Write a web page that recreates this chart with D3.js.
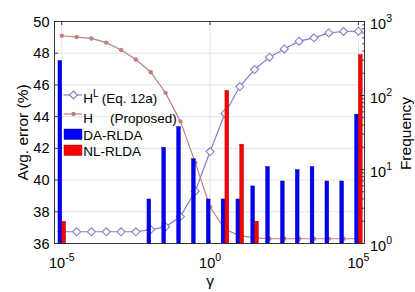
<!DOCTYPE html>
<html>
<head>
<meta charset="utf-8">
<script src="https://cdn.jsdelivr.net/npm/d3@7"></script>
<style>
  body { margin: 0; background: #fff; }
  svg text { font-family: "Liberation Sans", Arial, Helvetica, sans-serif; fill: #000; }
</style>
</head>
<body>
<div id="chart"></div>
<script>
// gamma values as powers of ten (half-decade steps)
const gammaExp = [-5, -4.5, -4, -3.5, -3, -2.5, -2, -1.5, -1, -0.5, 0, 0.5, 1, 1.5, 2, 2.5, 3, 3.5, 4, 4.5, 5];

// average error (%), left axis
const errHL = [36.74, 36.74, 36.74, 36.74, 36.74, 36.74, 36.88, 37.05, 37.7, 39.3, 41.8, 44.2, 45.9, 46.97, 47.75, 48.27, 48.76, 48.97, 49.28, 49.37, 49.39];
const errH  = [49.1, 49.02, 48.93, 48.67, 48.2, 47.6, 46.8, 45.5, 43.7, 41.1, 38.3, 36.9, 36.5, 36.35, 36.3, 36.3, 36.3, 36.3, 36.3, 36.3, 36.3];

// frequency of chosen gamma, right axis (0 = no bar)
const freqDA = [297, 0, 0, 0, 0, 0, 4, 20, 38, 14, 4, 4, 4, 6, 11, 7, 10, 11, 7, 7, 56];
const freqNL = [2, 0, 0, 0, 0, 0, 0, 0, 0, 0, 0, 117, 22, 2, 0, 0, 0, 0, 0, 0, 357];

const xTickExp = [-5, 0, 5];
const yLeftTicks = [36, 38, 40, 42, 44, 46, 48, 50];
const yRightTickExp = [0, 1, 2, 3];

const width = 415, height = 292;
const pLeft = 54.5, pRight = 364.5, pTop = 21.5, pBottom = 243.5;

const colHL = "#8282c8", colH = "#bf8080";
const colDA = "#0000ff", colNL = "#ff0000";
const gridCol = "#e4e4e4", axisCol = "#262626";

const svg = d3.select("#chart").append("svg")
  .attr("width", width)
  .attr("height", height);

const x = d3.scaleLog().domain([Math.pow(10, -5.245), Math.pow(10, 5.205)]).range([pLeft, pRight]);
const yL = d3.scaleLinear().domain([36, 50]).range([pBottom, pTop]);
const yR = d3.scaleLog().domain([1, 1000]).range([pBottom, pTop]);

const pts = gammaExp.map((e, i) => ({g: Math.pow(10, e), hl: errHL[i], h: errH[i], da: freqDA[i], nl: freqNL[i]}));

// grid
svg.append("g").selectAll("line.hg")
  .data(yLeftTicks.slice(1, -1))
  .enter().append("line")
  .attr("x1", pLeft).attr("x2", pRight)
  .attr("y1", d => yL(d)).attr("y2", d => yL(d))
  .attr("stroke", gridCol).attr("stroke-width", 1);

svg.append("g").selectAll("line.vg")
  .data(xTickExp)
  .enter().append("line")
  .attr("x1", d => x(Math.pow(10, d))).attr("x2", d => x(Math.pow(10, d)))
  .attr("y1", pTop).attr("y2", pBottom)
  .attr("stroke", gridCol).attr("stroke-width", 1);

// lines
const lineHL = d3.line().x(d => x(d.g)).y(d => yL(d.hl));
const lineH = d3.line().x(d => x(d.g)).y(d => yL(d.h));

svg.append("path").datum(pts)
  .attr("d", lineHL).attr("fill", "none")
  .attr("stroke", colHL).attr("stroke-width", 1.2);

const diamond = "M0,-4L4,0L0,4L-4,0Z";
svg.append("g").selectAll("path")
  .data(pts).enter().append("path")
  .attr("d", diamond)
  .attr("transform", d => `translate(${x(d.g)},${yL(d.hl)})`)
  .attr("fill", "#fff").attr("stroke", colHL).attr("stroke-width", 1.1);

svg.append("path").datum(pts)
  .attr("d", lineH).attr("fill", "none")
  .attr("stroke", colH).attr("stroke-width", 1.2);

svg.append("g").selectAll("circle")
  .data(pts).enter().append("circle")
  .attr("cx", d => x(d.g)).attr("cy", d => yL(d.h))
  .attr("r", 2.2).attr("fill", colH);

// bars (drawn on top of lines)
const bw = 3.8;
svg.append("g").selectAll("rect")
  .data(pts.filter(d => d.da > 0)).enter().append("rect")
  .attr("x", d => x(d.g) - bw).attr("width", bw)
  .attr("y", d => yR(d.da)).attr("height", d => pBottom - yR(d.da))
  .attr("fill", colDA).attr("stroke", "#00007a").attr("stroke-width", 0.4);

svg.append("g").selectAll("rect")
  .data(pts.filter(d => d.nl > 0)).enter().append("rect")
  .attr("x", d => x(d.g)).attr("width", bw)
  .attr("y", d => yR(d.nl)).attr("height", d => pBottom - yR(d.nl))
  .attr("fill", colNL).attr("stroke", "#7a0000").attr("stroke-width", 0.4);

// box
svg.append("rect")
  .attr("x", pLeft).attr("y", pTop)
  .attr("width", pRight - pLeft).attr("height", pBottom - pTop)
  .attr("fill", "none").attr("stroke", axisCol).attr("stroke-width", 0.9);

// x ticks (inward, top and bottom)
xTickExp.forEach(e => {
  const px = x(Math.pow(10, e));
  svg.append("line").attr("x1", px).attr("x2", px).attr("y1", pBottom).attr("y2", pBottom - 3.5)
    .attr("stroke", axisCol).attr("stroke-width", 0.9);
  svg.append("line").attr("x1", px).attr("x2", px).attr("y1", pTop).attr("y2", pTop + 3.5)
    .attr("stroke", axisCol).attr("stroke-width", 0.9);
});

const xt = svg.append("g").selectAll("text")
  .data(xTickExp).enter().append("text")
  .attr("x", d => x(Math.pow(10, d)))
  .attr("y", 268)
  .attr("text-anchor", "middle")
  .style("font-size", "14.5px");
xt.append("tspan").text("10");
xt.append("tspan").attr("dy", -7).style("font-size", "10.5px").text(d => d);

// left y ticks
svg.append("g").selectAll("line")
  .data(yLeftTicks).enter().append("line")
  .attr("x1", pLeft).attr("x2", pLeft + 3.5)
  .attr("y1", d => yL(d)).attr("y2", d => yL(d))
  .attr("stroke", axisCol).attr("stroke-width", 0.9);

svg.append("g").selectAll("text")
  .data(yLeftTicks).enter().append("text")
  .attr("x", 49.5).attr("y", d => yL(d) + 5)
  .attr("text-anchor", "end")
  .style("font-size", "14.5px")
  .text(d => d);

// right y ticks (log, with minor)
const minor = [];
yRightTickExp.slice(0, -1).forEach(e => {
  [2, 3, 4, 5, 6, 7, 8, 9].forEach(m => minor.push(m * Math.pow(10, e)));
});
svg.append("g").selectAll("line")
  .data(minor).enter().append("line")
  .attr("x1", pRight).attr("x2", pRight - 2.5)
  .attr("y1", d => yR(d)).attr("y2", d => yR(d))
  .attr("stroke", axisCol).attr("stroke-width", 0.8);
svg.append("g").selectAll("line")
  .data(yRightTickExp).enter().append("line")
  .attr("x1", pRight).attr("x2", pRight - 4.5)
  .attr("y1", d => yR(Math.pow(10, d))).attr("y2", d => yR(Math.pow(10, d)))
  .attr("stroke", axisCol).attr("stroke-width", 0.9);

const yt = svg.append("g").selectAll("text")
  .data(yRightTickExp).enter().append("text")
  .attr("x", 370).attr("y", d => yR(Math.pow(10, d)) + 7.5)
  .style("font-size", "14.5px");
yt.append("tspan").text("10");
yt.append("tspan").attr("dy", -7).style("font-size", "10.5px").text(d => d);

// axis titles
svg.append("text")
  .attr("transform", "translate(28,132.5) rotate(-90)")
  .attr("text-anchor", "middle")
  .style("font-size", "15.5px")
  .text("Avg. error (%)");

svg.append("text")
  .attr("transform", "translate(411,133.5) rotate(-90)")
  .attr("text-anchor", "middle")
  .style("font-size", "15.5px")
  .text("Frequency");

svg.append("text")
  .attr("x", 210).attr("y", 286)
  .attr("text-anchor", "middle")
  .style("font-size", "15.5px")
  .text("γ");

// legend
const lg = svg.append("g");
const sx0 = 63.5, sx1 = 82, smid = 73.5, tx = 83.3;

// H^L
lg.append("line").attr("x1", sx0).attr("x2", sx1).attr("y1", 95).attr("y2", 95)
  .attr("stroke", colHL).attr("stroke-width", 1.2);
lg.append("path").attr("d", diamond).attr("transform", `translate(${smid},95)`)
  .attr("fill", "#fff").attr("stroke", colHL).attr("stroke-width", 1.1);
const t1 = lg.append("text").attr("x", tx).attr("y", 103).style("font-size", "13.5px");
t1.append("tspan").text("H");
t1.append("tspan").attr("dy", -6).style("font-size", "10px").text("L");
t1.append("tspan").attr("dy", 6).attr("x", 101.7).text("(Eq. 12a)");

// H
lg.append("line").attr("x1", sx0).attr("x2", sx1).attr("y1", 114).attr("y2", 114)
  .attr("stroke", colH).attr("stroke-width", 1.2);
lg.append("circle").attr("cx", smid).attr("cy", 114).attr("r", 2.2).attr("fill", colH);
const t2 = lg.append("text").attr("x", tx).attr("y", 122.7).style("font-size", "13.5px");
t2.append("tspan").text("H");
t2.append("tspan").attr("x", 110).text("(Proposed)");

// bars
lg.append("rect").attr("x", 64).attr("y", 129).attr("width", 18).attr("height", 10.5)
  .attr("fill", colDA).attr("stroke", "#00007a").attr("stroke-width", 0.4);
lg.append("text").attr("x", tx).attr("y", 139.5).style("font-size", "13.5px").text("DA-RLDA");

lg.append("rect").attr("x", 64).attr("y", 145).attr("width", 18).attr("height", 10.5)
  .attr("fill", colNL).attr("stroke", "#7a0000").attr("stroke-width", 0.4);
lg.append("text").attr("x", tx).attr("y", 155.7).style("font-size", "13.5px").text("NL-RLDA");
</script>
</body>
</html>
